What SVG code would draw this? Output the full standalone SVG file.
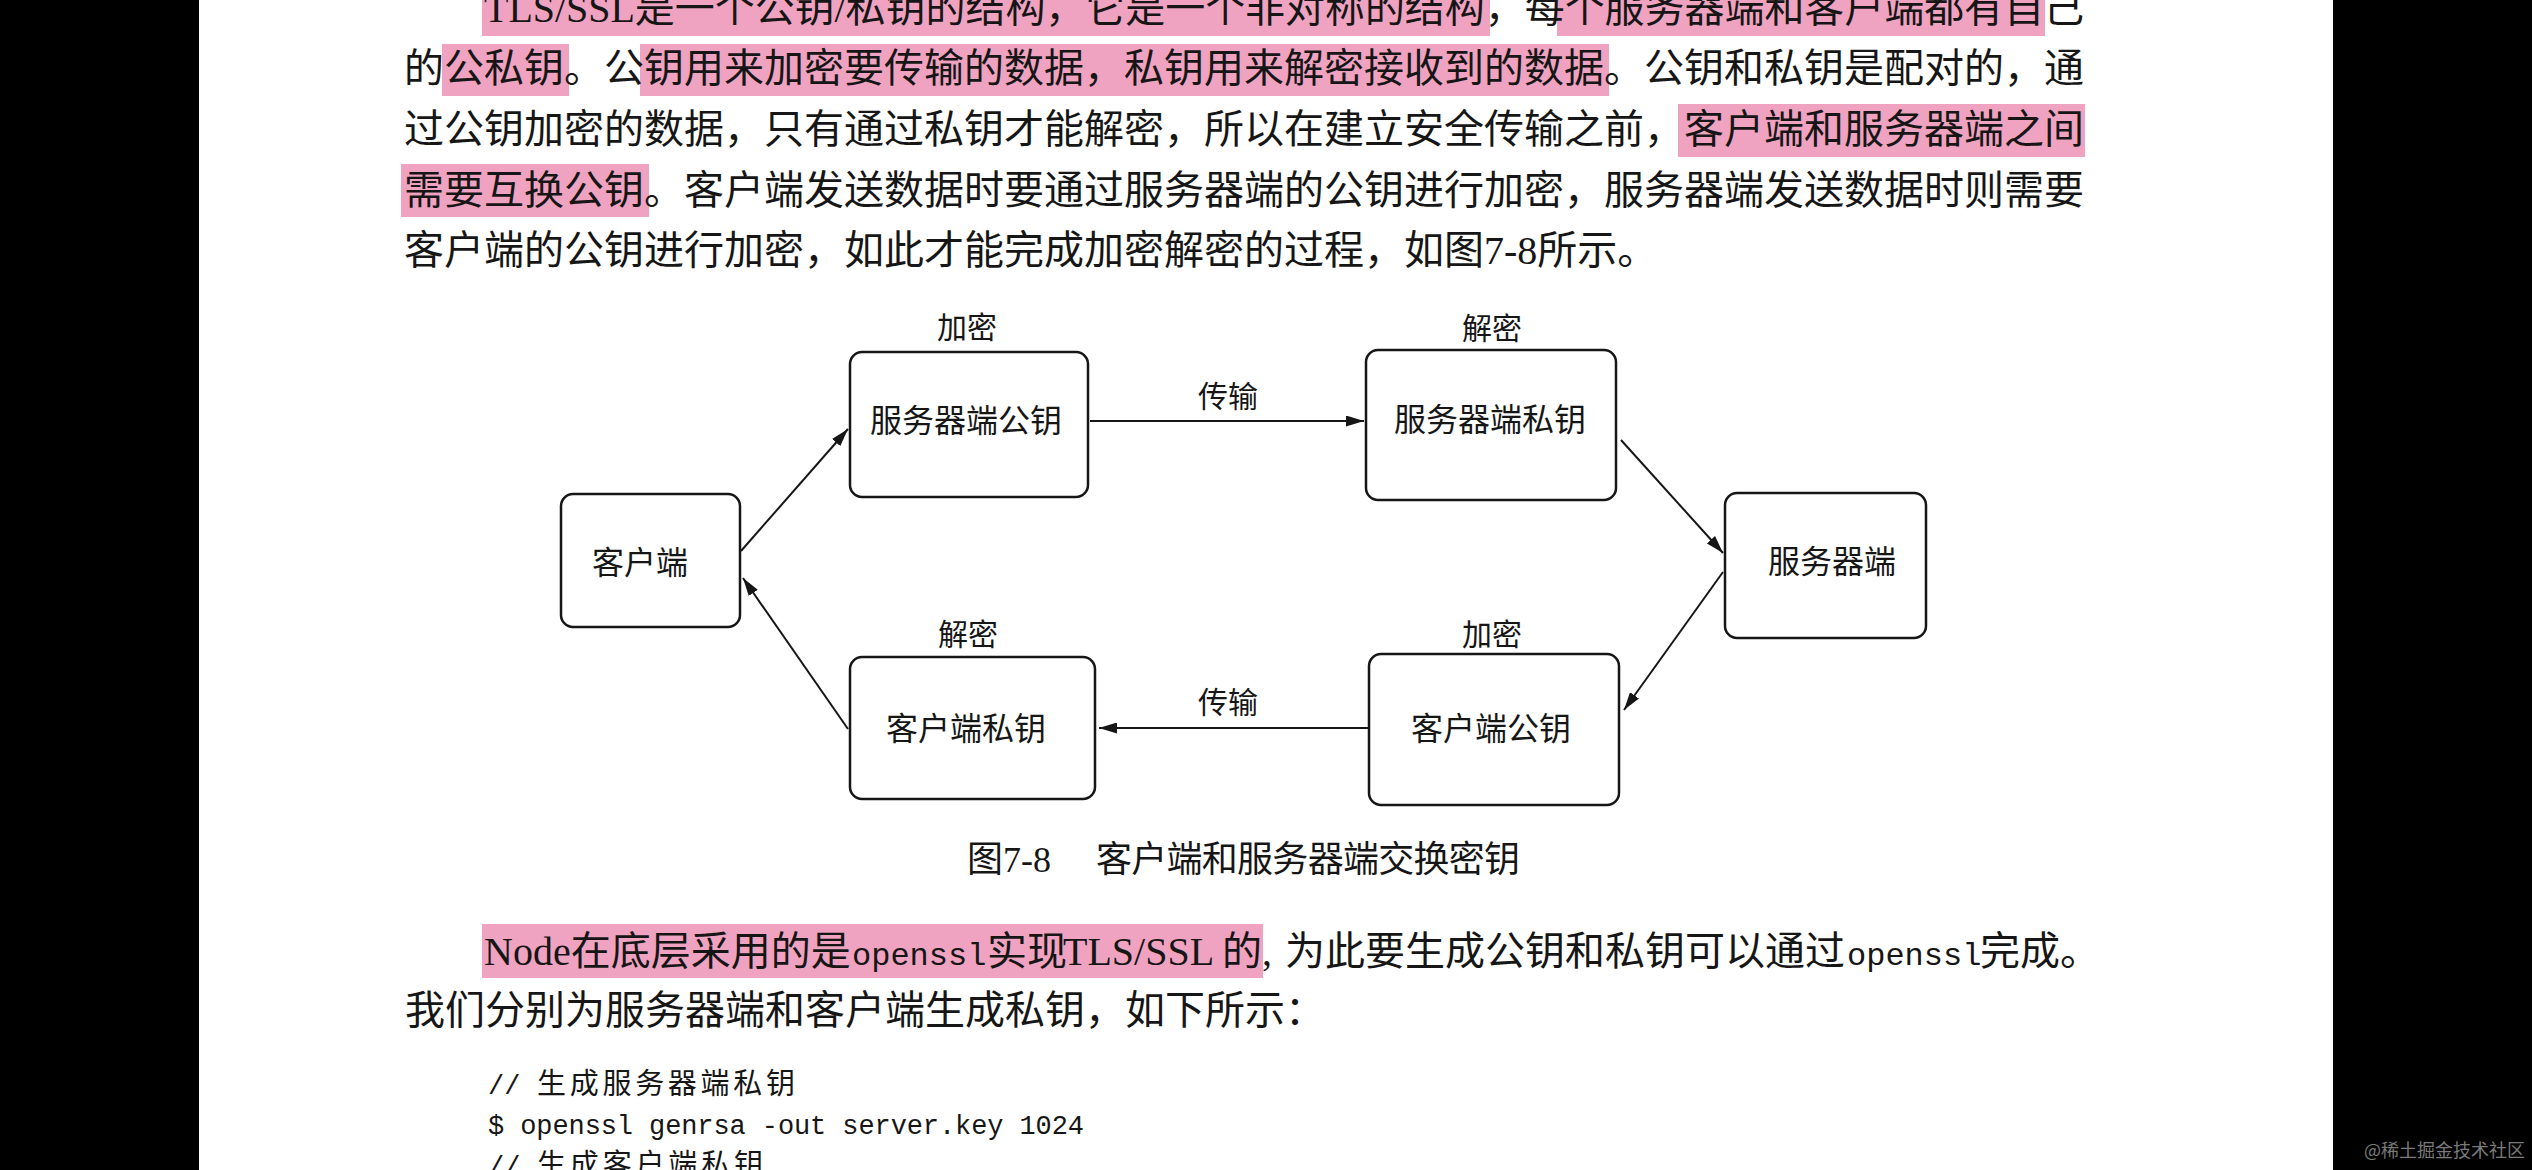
<svg xmlns="http://www.w3.org/2000/svg" width="2532" height="1170" viewBox="0 0 2532 1170">
<defs>
<style>
.bar{fill:#000}
.hl{fill:#F0A3C0}
.body{font-family:"Liberation Serif","Noto Sans CJK SC",serif;font-size:40px;fill:#161616}
.mono32{font-family:"Liberation Mono","Noto Sans CJK SC",monospace;font-size:32px}
.box{fill:#fff;stroke:#161616;stroke-width:2.5}
.nt{font-family:"Noto Sans CJK SC",sans-serif;font-size:32px;fill:#161616;text-anchor:middle}
.lbl{font-family:"Noto Sans CJK SC",sans-serif;font-size:30px;fill:#161616;text-anchor:middle}
.edge{stroke:#161616;stroke-width:2;fill:none;marker-end:url(#ah)}
.cap{font-family:"Liberation Serif","Noto Sans CJK SC",serif;font-size:36px;fill:#161616}
.code{font-family:"Liberation Mono","Noto Sans CJK SC",monospace;font-size:27px;fill:#161616}
.codecjk{font-family:"Noto Sans CJK SC",sans-serif;font-size:29px;fill:#161616}
.wm{font-family:"Noto Sans CJK SC",sans-serif;font-size:18px;fill:#7a7a7a}
</style>
<marker id="ah" markerUnits="userSpaceOnUse" markerWidth="19" markerHeight="11" refX="18" refY="5.5" orient="auto">
<path d="M0,0 L18,5.5 L0,11 z" fill="#161616"/>
</marker>
</defs>

<rect x="0" y="0" width="2532" height="1170" fill="#fff"/>
<rect class="bar" x="0" y="0" width="199" height="1170"/>
<rect class="bar" x="2333" y="0" width="199" height="1170"/>
<text class="wm" x="2364" y="1157">@稀土掘金技术社区</text>

<g id="highlights">
<rect class="hl" x="482" y="-16" width="1008" height="52"/>
<rect class="hl" x="1557" y="-16" width="488" height="52"/>
<rect class="hl" x="442" y="44" width="127" height="52"/>
<rect class="hl" x="640" y="44" width="969" height="52"/>
<rect class="hl" x="1678" y="104" width="407" height="53"/>
<rect class="hl" x="401" y="164" width="248" height="53"/>
<rect class="hl" x="482" y="924" width="781" height="54"/>
</g>

<g id="paragraph1">
<text class="body" x="484" y="22" textLength="1600" lengthAdjust="spacing">TLS/SSL是一个公钥/私钥的结构，它是一个非对称的结构，每个服务器端和客户端都有自己</text>
<text class="body" x="404" y="82" textLength="1680" lengthAdjust="spacing">的公私钥。公钥用来加密要传输的数据，私钥用来解密接收到的数据。公钥和私钥是配对的，通</text>
<text class="body" x="404" y="143" textLength="1680" lengthAdjust="spacing">过公钥加密的数据，只有通过私钥才能解密，所以在建立安全传输之前，客户端和服务器端之间</text>
<text class="body" x="404" y="204" textLength="1680" lengthAdjust="spacing">需要互换公钥。客户端发送数据时要通过服务器端的公钥进行加密，服务器端发送数据时则需要</text>
<text class="body" x="404" y="264">客户端的公钥进行加密，如此才能完成加密解密的过程，如图7-8所示。</text>
</g>

<g id="connectors">
<line class="edge" x1="741" y1="551" x2="848" y2="429"/>
<line class="edge" x1="1090" y1="421" x2="1364" y2="421"/>
<line class="edge" x1="1621" y1="440" x2="1723" y2="553"/>
<line class="edge" x1="1723" y1="572" x2="1624" y2="710"/>
<line class="edge" x1="1369" y1="728" x2="1099" y2="728"/>
<line class="edge" x1="848" y1="729" x2="743" y2="578"/>
<text class="lbl" x="1228" y="407">传输</text>
<text class="lbl" x="1228" y="713">传输</text>
</g>

<g id="n-client">
<rect class="box" x="561" y="494" width="179" height="133" rx="12"/>
<text class="nt" x="640" y="574">客户端</text>
</g>
<g id="n-server-pub">
<text class="lbl" x="967" y="338">加密</text>
<rect class="box" x="850" y="352" width="238" height="145" rx="12"/>
<text class="nt" x="966" y="432">服务器端公钥</text>
</g>
<g id="n-server-priv">
<text class="lbl" x="1492" y="339">解密</text>
<rect class="box" x="1366" y="350" width="250" height="150" rx="12"/>
<text class="nt" x="1490" y="431">服务器端私钥</text>
</g>
<g id="n-server">
<rect class="box" x="1725" y="493" width="201" height="145" rx="12"/>
<text class="nt" x="1832" y="573">服务器端</text>
</g>
<g id="n-client-pub">
<text class="lbl" x="1492" y="645">加密</text>
<rect class="box" x="1369" y="654" width="250" height="151" rx="12"/>
<text class="nt" x="1491" y="740">客户端公钥</text>
</g>
<g id="n-client-priv">
<text class="lbl" x="968" y="645">解密</text>
<rect class="box" x="850" y="657" width="245" height="142" rx="12"/>
<text class="nt" x="966" y="740">客户端私钥</text>
</g>

<g id="caption">
<text class="cap" x="967" y="872">图7-8</text>
<text class="cap" x="1096" y="872" textLength="424" lengthAdjust="spacing">客户端和服务器端交换密钥</text>
</g>

<g id="paragraph2">
<text class="body" y="965"><tspan x="484">Node在底层采用的是</tspan><tspan x="852" class="mono32">openssl</tspan><tspan x="987">实现</tspan><tspan x="1063">TLS/SSL</tspan><tspan x="1222">的,</tspan><tspan x="1285">为此要生成公钥和私钥可以通过</tspan><tspan x="1847" class="mono32">openssl</tspan><tspan x="1980">完成。</tspan></text>
<text class="body" x="405" y="1024">我们分别为服务器端和客户端生成私钥，如下所示：</text>
</g>

<g id="code">
<text class="code" x="488" y="1094">//</text>
<text class="codecjk" x="537" y="1094" textLength="258" lengthAdjust="spacing">生成服务器端私钥</text>
<text class="code" x="488" y="1134" textLength="596" lengthAdjust="spacing">$ openssl genrsa -out server.key 1024</text>
<text class="code" x="488" y="1175">//</text>
<text class="codecjk" x="537" y="1175" textLength="226" lengthAdjust="spacing">生成客户端私钥</text>
</g>
</svg>
